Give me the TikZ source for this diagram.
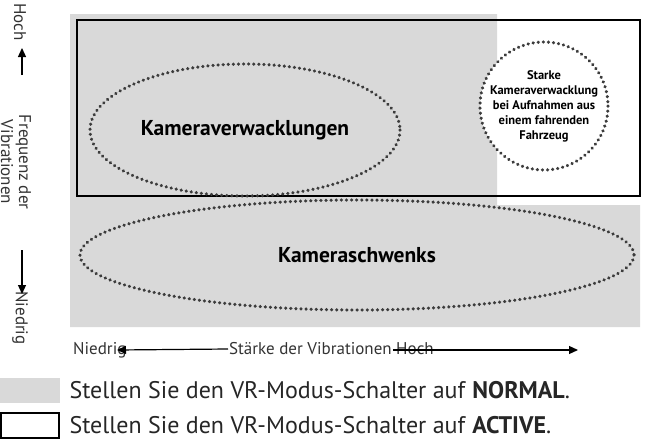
\documentclass[tikz,border=0pt]{standalone}
\usepackage{fontspec}
\setmainfont{PT Sans}
\usetikzlibrary{positioning, calc, arrows.meta}
\definecolor{normalgray}{RGB}{217, 217, 217}
\definecolor{dotgray}{RGB}{60, 60, 60}

\begin{document}
\begin{tikzpicture}[x=1pt, y=-1pt,
  zone/.style={dotgray, line width=3.4pt, dash pattern=on 0.1pt off 5pt, line cap=round},
  zonelabel/.style={font=\fontsize{21.5}{24}\selectfont\bfseries},
  axislabel/.style={font=\fontsize{17}{18}\selectfont, text=black!80, inner sep=1pt},
  axisarrow/.style={-{Triangle[length=9pt, width=8pt]}, line width=1.2pt},
  legendtext/.style={font=\fontsize{24}{27}\selectfont, anchor=west, text=black!85},
]
\useasboundingbox (0,0) rectangle (645,442);

% NORMAL area
\fill[normalgray] (70,14) -- (497,14) -- (497,205) -- (640,205) -- (640,327) -- (70,327) -- cycle;
% ACTIVE area
\draw[line width=1.3pt] (77,20) rectangle (640,196);

% vibration zones
\draw[zone] (245,130) ellipse [x radius=155, y radius=66];
\node[zonelabel] (shake) at (245,130) {Kameraverwacklungen};
\draw[zone] (357,255) ellipse [x radius=277, y radius=55];
\node[zonelabel] (pan) at (357,255) {Kameraschwenks};
\draw[zone, fill=white] (544,106) circle [radius=64];
\node[align=center, font=\fontsize{12.5}{15}\selectfont\bfseries] (vehicle) at (544,106)
  {Starke\\Kameraverwacklung\\bei Aufnahmen aus\\einem fahrenden\\Fahrzeug};

% frequency axis
\node[axislabel, rotate=-90] (fhigh) at (20,22) {Hoch};
\node[axislabel, rotate=-90, align=center] (freq) at (16,162) {Frequenz der\\Vibrationen};
\node[axislabel, rotate=-90] (flow) at (20,318) {Niedrig};
\coordinate (fup) at (22,48);
\coordinate (fdown) at (22,294);
\draw[axisarrow] (22,75) -- (fup);
\draw[axisarrow] (22,250) -- (fdown);

% strength axis
\node[axislabel, anchor=west] (slow) at (72,350) {Niedrig};
\node[axislabel, anchor=west] (strength) at (228,349) {Stärke der Vibrationen Hoch};
\coordinate (sleft) at (117,350);
\coordinate (sright) at (578,350);
\draw[axisarrow] (strength.west) -- (sleft);
\draw[axisarrow] ($(strength.east)+(-42,1)$) -- (sright);

% legend
\fill[normalgray] (0,378) rectangle (60,403);
\draw[line width=1.1pt] (1,413) rectangle (59,438);
\node[legendtext] (lnormal) at (66,390) {Stellen Sie den VR-Modus-Schalter auf \textbf{NORMAL}.};
\node[legendtext] (lactive) at (66,425) {Stellen Sie den VR-Modus-Schalter auf \textbf{ACTIVE}.};
\end{tikzpicture}
\end{document}
